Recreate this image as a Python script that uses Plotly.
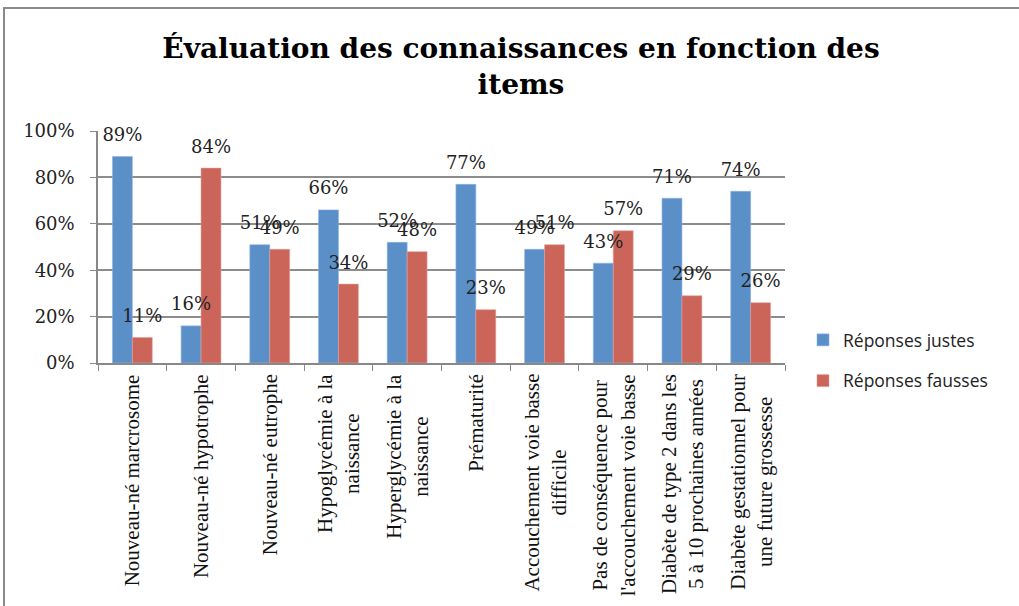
import plotly.graph_objects as go

categories = [
    "Nouveau-né marcrosome",
    "Nouveau-né hypotrophe",
    "Nouveau-né eutrophe",
    "Hypoglycémie à la<br>naissance",
    "Hyperglycémie à la<br>naissance",
    "Prématurité",
    "Accouchement voie basse<br>difficile",
    "Pas de conséquence pour<br>l'accouchement voie basse",
    "Diabète de type 2 dans les<br>5 à 10 prochaines années",
    "Diabète gestationnel pour<br>une future grossesse",
]
reponses_justes = [89, 16, 51, 66, 52, 77, 49, 43, 71, 74]
reponses_fausses = [11, 84, 49, 34, 48, 23, 51, 57, 29, 26]
y_ticks = [0, 20, 40, 60, 80, 100]
y_tick_labels = ["0%", "20%", "40%", "60%", "80%", "100%"]

BLUE = "#5B8FC8"
RED = "#CB6459"
GAP = 0.42
label_font = dict(family="DejaVu Serif", size=18, color="#222")

fig = go.Figure()
series = [
    ("Réponses justes", reponses_justes, BLUE, "#8DB3E2", "a"),
    ("Réponses fausses", reponses_fausses, RED, "#E6A09A", "b"),
]
for name, vals, col, edge, grp in series:
    fig.add_trace(go.Bar(
        x=categories, y=vals, name=name, offsetgroup=grp, legendgroup=grp,
        marker=dict(color=col, line=dict(color=edge, width=0.6)),
        hoverinfo="x+y",
    ))
for name, vals, col, edge, grp in series:
    fig.add_trace(go.Scatter(
        x=categories, y=vals, offsetgroup=grp, mode="markers+text",
        text=[f"{v}%" for v in vals], textposition="top center",
        textfont=label_font, marker=dict(size=16, opacity=0, color=col),
        cliponaxis=False, showlegend=False, hoverinfo="skip",
    ))

# category labels (rotated, lines centred like the original)
for c in categories:
    fig.add_annotation(
        x=c, xref="x", y=0, yref="paper", yshift=-9,
        text=c, textangle=-90, align="center",
        xanchor="center", yanchor="top", showarrow=False,
        font=dict(family="Liberation Serif", size=21, color="#111"),
    )

L, R, T, B = 98, 785, 131, 363
W, H = 1019, 606
pw, ph = R - L, B - T

def px(x):
    return (x - L) / pw

def py(y):
    return (B - y) / ph

fig.update_layout(
    width=W, height=H,
    margin=dict(l=L, r=W - R, t=T, b=H - B, autoexpand=False),
    paper_bgcolor="white", plot_bgcolor="white",
    barmode="group", bargap=GAP, bargroupgap=0,
    scattermode="group", scattergap=GAP,
    title=dict(
        text="Évaluation des connaissances en fonction des<br>items",
        font=dict(family="DejaVu Serif", size=28, color="black", weight="bold"),
        x=px(521), xref="paper", xanchor="center",
        y=1 - 58 / H, yref="container", yanchor="middle",
    ),
    xaxis=dict(
        type="category", showticklabels=False,
        showline=True, linecolor="#888", linewidth=1.5,
        ticks="outside", tickson="boundaries", ticklen=6, tickcolor="#888",
        showgrid=False,
    ),
    yaxis=dict(
        range=[0, 100], tickvals=y_ticks, ticktext=y_tick_labels,
        tickfont=dict(family="DejaVu Serif", size=18, color="#222"),
        ticklabelstandoff=12,
        showline=True, linecolor="#888", linewidth=1.5,
        ticks="outside", ticklen=6, tickcolor="#888",
        showgrid=True, gridcolor="#8c8c8c", gridwidth=1.5,
        zeroline=False,
    ),
    legend=dict(
        x=px(803), y=py(322), xanchor="left", yanchor="top",
        font=dict(family="Open Sans", size=17.5, color="#222"),
        tracegroupgap=15, bgcolor="rgba(0,0,0,0)",
    ),
    showlegend=True,
)

fig.add_shape(
    type="rect", xref="paper", yref="paper",
    x0=px(4), x1=px(1030), y0=py(8), y1=py(620),
    line=dict(color="#8a8a8a", width=2), fillcolor="rgba(0,0,0,0)", layer="below",
)

fig.write_html("out.html", config={"displayModeBar": False},
               post_script="document.body.style.margin='0';")
